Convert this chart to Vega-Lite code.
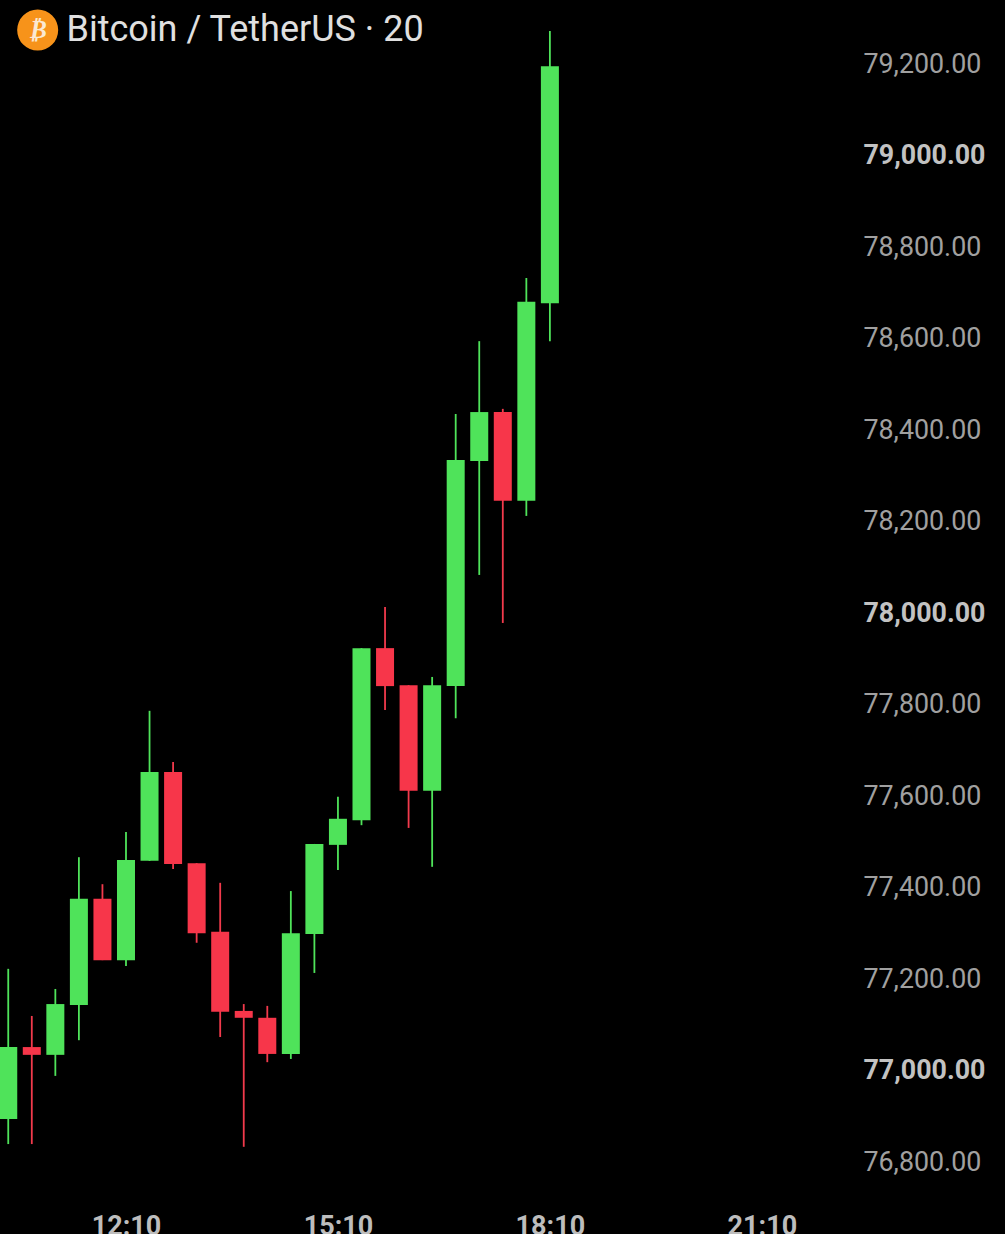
{
  "$schema": "https://vega.github.io/schema/vega-lite/v6.json",
  "width": 1005,
  "height": 1234,
  "padding": 0,
  "autosize": "none",
  "background": "#000000",
  "title": {
    "text": "Bitcoin / TetherUS · 20",
    "anchor": "start",
    "frame": "group",
    "orient": "top",
    "baseline": "alphabetic",
    "dx": 66.5,
    "offset": -77,
    "font": "Roboto",
    "fontSize": 36,
    "fontWeight": "normal",
    "color": "#E0E0E0"
  },
  "datasets": {
    "candles": [
      {"time": "2024-01-01T10:30:00Z", "open": 76892, "high": 77220, "low": 76837, "close": 77049},
      {"time": "2024-01-01T10:50:00Z", "open": 77049, "high": 77117, "low": 76837, "close": 77032},
      {"time": "2024-01-01T11:10:00Z", "open": 77032, "high": 77176, "low": 76986, "close": 77143},
      {"time": "2024-01-01T11:30:00Z", "open": 77141, "high": 77464, "low": 77064, "close": 77373},
      {"time": "2024-01-01T11:50:00Z", "open": 77373, "high": 77405, "low": 77239, "close": 77239},
      {"time": "2024-01-01T12:10:00Z", "open": 77239, "high": 77519, "low": 77226, "close": 77458},
      {"time": "2024-01-01T12:30:00Z", "open": 77456, "high": 77784, "low": 77456, "close": 77650},
      {"time": "2024-01-01T12:50:00Z", "open": 77650, "high": 77672, "low": 77438, "close": 77449},
      {"time": "2024-01-01T13:10:00Z", "open": 77451, "high": 77451, "low": 77277, "close": 77298},
      {"time": "2024-01-01T13:30:00Z", "open": 77301, "high": 77408, "low": 77071, "close": 77126},
      {"time": "2024-01-01T13:50:00Z", "open": 77128, "high": 77143, "low": 76831, "close": 77113},
      {"time": "2024-01-01T14:10:00Z", "open": 77113, "high": 77139, "low": 77016, "close": 77034},
      {"time": "2024-01-01T14:30:00Z", "open": 77034, "high": 77390, "low": 77023, "close": 77298},
      {"time": "2024-01-01T14:50:00Z", "open": 77296, "high": 77493, "low": 77211, "close": 77493},
      {"time": "2024-01-01T15:10:00Z", "open": 77491, "high": 77596, "low": 77436, "close": 77548},
      {"time": "2024-01-01T15:30:00Z", "open": 77545, "high": 77921, "low": 77534, "close": 77921},
      {"time": "2024-01-01T15:50:00Z", "open": 77921, "high": 78011, "low": 77786, "close": 77838},
      {"time": "2024-01-01T16:10:00Z", "open": 77840, "high": 77840, "low": 77528, "close": 77609},
      {"time": "2024-01-01T16:30:00Z", "open": 77609, "high": 77858, "low": 77443, "close": 77840},
      {"time": "2024-01-01T16:50:00Z", "open": 77838, "high": 78433, "low": 77768, "close": 78332},
      {"time": "2024-01-01T17:10:00Z", "open": 78330, "high": 78592, "low": 78081, "close": 78437},
      {"time": "2024-01-01T17:30:00Z", "open": 78437, "high": 78444, "low": 77976, "close": 78243},
      {"time": "2024-01-01T17:50:00Z", "open": 78243, "high": 78730, "low": 78210, "close": 78678},
      {"time": "2024-01-01T18:10:00Z", "open": 78675, "high": 79270, "low": 78592, "close": 79193}
    ],
    "logo": [
      {"time": "2024-01-01T10:55:00Z", "price": 79272, "symbol": "₿"}
    ]
  },
  "data": {"name": "candles"},
  "encoding": {
    "x": {
      "field": "time",
      "type": "temporal",
      "scale": {"type": "utc", "domain": [1704104580000, 1704155790000], "nice": false, "padding": 0},
      "axis": {
        "title": null,
        "orient": "bottom",
        "values": [1704111000000, 1704121800000, 1704132600000, 1704143400000],
        "format": "%H:%M",
        "grid": false,
        "domain": false,
        "ticks": false,
        "labelFont": "Roboto",
        "labelFontSize": 27,
        "labelFontWeight": "bold",
        "labelColor": "#BDBDBD",
        "labelBaseline": "top",
        "labelPadding": -21,
        "labelFlush": false,
        "labelOverlap": false
      }
    }
  },
  "layer": [
    {
      "mark": {"type": "rule", "strokeWidth": 1.8},
      "encoding": {
        "y": {
          "field": "low",
          "type": "quantitative",
          "scale": {"domain": [76640.4, 79337.7], "nice": false, "zero": false},
          "axis": {
            "title": null,
            "orient": "right",
            "values": [76800, 77000, 77200, 77400, 77600, 77800, 78000, 78200, 78400, 78600, 78800, 79000, 79200],
            "format": ",.2f",
            "grid": false,
            "domain": false,
            "ticks": false,
            "labelFont": "Roboto",
            "labelFontSize": 26.8,
            "labelAlign": "left",
            "labelPadding": -142,
            "labelOffset": 1.5,
            "labelOverlap": false,
            "labelColor": {
              "condition": {"test": "datum.value % 1000 === 0", "value": "#C2C2C2"},
              "value": "#A0A0A0"
            },
            "labelFontWeight": {
              "condition": {"test": "datum.value % 1000 === 0", "value": "bold"},
              "value": "normal"
            }
          }
        },
        "y2": {"field": "high"},
        "color": {
          "condition": {"test": "datum.close >= datum.open", "value": "#4FE35A"},
          "value": "#F23A4C"
        }
      }
    },
    {
      "mark": {"type": "bar", "size": 18},
      "encoding": {
        "y": {"field": "open", "type": "quantitative"},
        "y2": {"field": "close"},
        "color": {
          "condition": {"test": "datum.close >= datum.open", "value": "#4FE35A"},
          "value": "#F7364A"
        }
      }
    },
    {
      "data": {"name": "logo"},
      "mark": {"type": "point", "filled": true, "size": 1681, "opacity": 1, "color": "#F7931A"},
      "encoding": {
        "y": {"field": "price", "type": "quantitative"}
      }
    },
    {
      "data": {"name": "logo"},
      "mark": {"type": "text", "font": "DejaVu Sans", "fontSize": 25, "fontWeight": "bold", "fontStyle": "italic", "color": "#FBE9D2", "align": "center", "baseline": "middle"},
      "encoding": {
        "y": {"field": "price", "type": "quantitative"},
        "text": {"field": "symbol"}
      }
    }
  ],
  "config": {
    "view": {"stroke": null}
  }
}
